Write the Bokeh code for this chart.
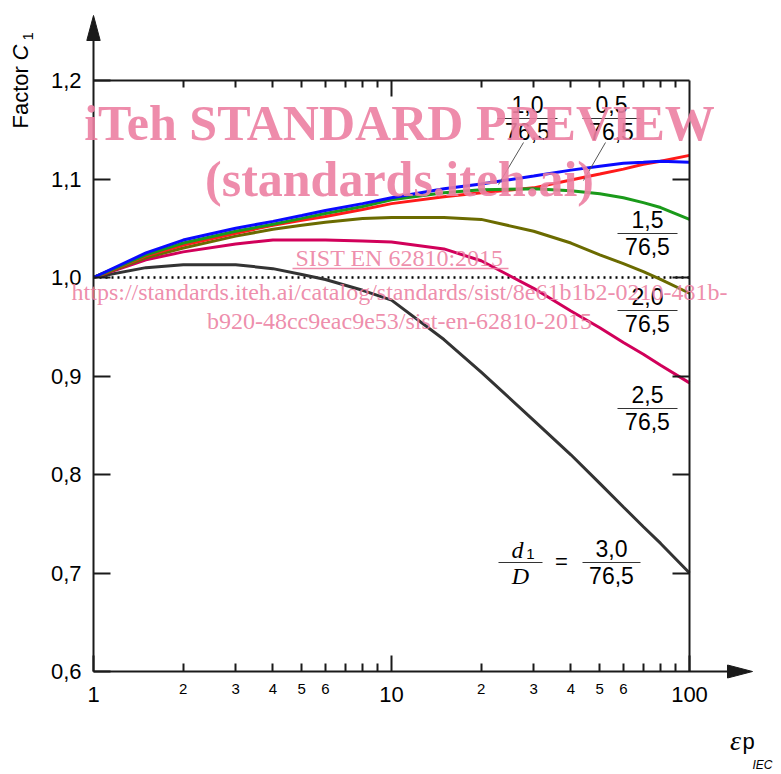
import numpy as np
from bokeh.plotting import figure
from bokeh.models import (Range1d, LogAxis, LinearAxis, FixedTicker, CustomJSTickFormatter, Label)
from bokeh.core.properties import value
from bokeh.embed import file_html
from bokeh.resources import INLINE

# ---------------- data ----------------
eps_p = [1, 1.5, 2, 3, 4, 5, 6, 8, 10, 15, 20, 30, 40, 50, 60, 70, 80, 100]
c1_d05 = [1.000, 1.022, 1.033, 1.045, 1.053, 1.058, 1.062, 1.069, 1.075, 1.082, 1.086, 1.091, 1.099, 1.105, 1.110, 1.115, 1.118, 1.124]
c1_d10 = [1.000, 1.025, 1.038, 1.050, 1.057, 1.063, 1.068, 1.075, 1.081, 1.090, 1.095, 1.103, 1.109, 1.113, 1.116, 1.117, 1.118, 1.117]
c1_d15 = [1.000, 1.023, 1.035, 1.047, 1.054, 1.060, 1.065, 1.072, 1.079, 1.086, 1.089, 1.090, 1.088, 1.085, 1.081, 1.076, 1.071, 1.059]
c1_d20 = [1.000, 1.020, 1.030, 1.042, 1.049, 1.053, 1.056, 1.060, 1.061, 1.061, 1.059, 1.047, 1.035, 1.023, 1.014, 1.006, 0.998, 0.984]
c1_d25 = [1.000, 1.018, 1.026, 1.034, 1.038, 1.038, 1.038, 1.037, 1.036, 1.029, 1.017, 0.989, 0.966, 0.949, 0.934, 0.922, 0.911, 0.893]
c1_d30 = [1.000, 1.010, 1.013, 1.013, 1.009, 1.003, 0.998, 0.987, 0.977, 0.937, 0.904, 0.855, 0.820, 0.791, 0.767, 0.747, 0.730, 0.700]
ref_x = [1, 100]
ref_y = [1.0, 1.0]

ratio_num = ["0,5", "1,0", "1,5", "2,0", "2,5", "3,0"]
ratio_den = "76,5"

y_ticks = [0.6, 0.7, 0.8, 0.9, 1.0, 1.1, 1.2]
right_ticks = [0.7, 0.8, 0.9, 1.0, 1.1]
x_major = [1, 10, 100]
x_minor = [2, 3, 4, 5, 6, 7, 8, 9, 20, 30, 40, 50, 60, 70, 80, 90]
x_minor_lab = [2, 3, 4, 5, 6, 20, 30, 40, 50, 60]
x_minor_txt = ["2", "3", "4", "5", "6", "2", "3", "4", "5", "6"]

# ---------------- layout (canvas px -> data) ----------------
W, H = 780, 773
FL, FR, FT, FB = 93, 689, 80, 671      # where the data box sits on the canvas
X0, X1, Y0, Y1 = 1, 100, 0.6, 1.2


def dx(px):
    return 10 ** (np.log10(X0) + (px - FL) / (FR - FL) * (np.log10(X1) - np.log10(X0)))


def dy(py):
    return Y0 + (FB - py) / (FB - FT) * (Y1 - Y0)


SANS_N = "Liberation Sans"
SERIF_N = "Liberation Serif"
SANS = value(SANS_N)
SERIF = value(SERIF_N)
INK = "#1a1a1a"

p = figure(x_axis_type="log", x_range=Range1d(dx(0), dx(W)), y_range=Range1d(dy(H), dy(0)),
           width=W, height=H, min_border=0,
           output_backend="svg", toolbar_location=None,
           background_fill_color=None, border_fill_color="white")
p.grid.visible = False
p.outline_line_color = None


def style_axis(ax, tick_in, minor_in=0):
    ax.major_tick_in = tick_in
    ax.major_tick_out = 0
    ax.minor_tick_in = minor_in
    ax.minor_tick_out = 0
    ax.axis_line_width = 2
    ax.axis_line_color = INK
    ax.major_tick_line_width = 2
    ax.minor_tick_line_width = 2
    ax.major_tick_line_color = INK
    ax.minor_tick_line_color = INK


# bottom axis, at y = 0.6, running on to the arrow
xa = p.below[0]
xa.fixed_location = Y0
xa.bounds = (X0, dx(728))
xa.ticker = FixedTicker(ticks=x_major, minor_ticks=x_minor)
xa.formatter = CustomJSTickFormatter(code="return tick.toString()")
style_axis(xa, 16, 8)
xa.major_label_text_font = SANS_N
xa.major_label_text_font_size = "22px"
xa.major_label_text_color = "black"
xa.major_label_standoff = 15

# left axis, at x = 1, running on to the arrow
ya = p.left[0]
ya.fixed_location = X0
ya.bounds = (Y0, dy(39))
ya.ticker = FixedTicker(ticks=y_ticks, minor_ticks=[])
ya.formatter = CustomJSTickFormatter(code="return tick.toFixed(1).replace('.', ',')")
style_axis(ya, 17)
ya.major_label_text_font = SANS_N
ya.major_label_text_font_size = "22px"
ya.major_label_text_color = "black"
ya.major_label_standoff = 12

# top edge (inward ticks only)
top = LogAxis(ticker=FixedTicker(ticks=[10], minor_ticks=x_minor),
              formatter=CustomJSTickFormatter(code="return ''"),
              fixed_location=Y1, bounds=(X0, X1))
style_axis(top, 16, 7)
p.add_layout(top, "above")

# right edge (inward ticks only)
right = LinearAxis(ticker=FixedTicker(ticks=right_ticks, minor_ticks=[]),
                   formatter=CustomJSTickFormatter(code="return ''"),
                   fixed_location=X1, bounds=(Y0, Y1))
style_axis(right, 17)
p.add_layout(right, "right")

# arrow heads
p.patches([[dx(FL - 6.7), dx(FL), dx(FL + 6.7)], [dx(727), dx(752), dx(727)]],
          [[dy(40), dy(15), dy(40)], [dy(FB - 6.5), dy(FB), dy(FB + 6.5)]],
          fill_color=INK, line_color=INK, line_width=1)

# minor tick labels
p.text(x_minor_lab, [dy(688)] * len(x_minor_lab), text=x_minor_txt,
       text_align="center", text_baseline="middle",
       text_font=SANS, text_font_size="15px", text_color="black")


def lab(x, y, text, font=SANS_N, size="22px", style="normal", angle=0.0,
        align="center", color="black", alpha=1.0):
    p.add_layout(Label(x=x, y=y, text=text, angle=angle, text_align=align, text_baseline="middle",
                       text_font=font, text_font_style=style, text_font_size=size,
                       text_color=color, text_alpha=alpha))


# axis titles
lab(dx(20), dy(128), "Factor ", angle=np.pi / 2, align="left")
lab(dx(20), dy(60), "C", style="italic", angle=np.pi / 2, align="left")
lab(dx(27), dy(40), "1", size="15px", angle=np.pi / 2, align="left")
lab(dx(735), dy(740), "\u03b5", font=SERIF_N, style="italic", size="28px")
lab(dx(748), dy(741), "p", size="22px")
lab(dx(762), dy(764), "IEC", style="italic", size="12px")

# reference line and curves
p.line(ref_x, ref_y, line_color="black", line_width=2.5, line_dash="2 4")
curves = [(c1_d30, "#333333"), (c1_d25, "#d1005a"), (c1_d20, "#6b6b00"),
          (c1_d05, "#ff1a1a"), (c1_d15, "#1a9a1a"), (c1_d10, "#0a0aff")]
for ys, col in curves:
    p.line(eps_p, ys, line_color=col, line_width=3)

# curve labels (fractions)
label_pos = {  # numerator -> (center x px, bar y px, bar half width px)
    "0,5": (611, 118, 29), "1,0": (527, 118, 30), "1,5": (647, 233, 30),
    "2,0": (647, 310, 30), "2,5": (647, 408, 30), "3,0": (611, 562, 29),
}
nx, ny, nt, bx0, bx1, by = [], [], [], [], [], []
for num in ratio_num:
    cx, yb, hw = label_pos[num]
    nx += [dx(cx), dx(cx)]
    ny += [dy(yb - 14), dy(yb + 13)]
    nt += [num, ratio_den]
    bx0.append(dx(cx - hw)); bx1.append(dx(cx + hw)); by.append(dy(yb))
p.text(nx, ny, text=nt, text_align="center", text_baseline="middle",
       text_font=SANS, text_font_size="23px", text_color="black")
p.segment(bx0, by, bx1, by, line_color="#333333", line_width=1.2)
# d1/D =
p.segment([dx(498)], [dy(562)], [dx(542)], [dy(562)], line_color="#333333", line_width=1.2)
p.text([dx(517)], [dy(549)], text=["d"], text_align="center", text_baseline="middle",
       text_font=SERIF, text_font_style="italic", text_font_size="24px", text_color="black")
p.text([dx(530)], [dy(553)], text=["1"], text_align="center", text_baseline="middle",
       text_font=SANS, text_font_size="15px", text_color="black")
p.text([dx(520)], [dy(575)], text=["D"], text_align="center", text_baseline="middle",
       text_font=SERIF, text_font_style="italic", text_font_size="24px", text_color="black")
p.text([dx(561)], [dy(561)], text=["="], text_align="center", text_baseline="middle",
       text_font=SANS, text_font_size="22px", text_color="black")
# leader lines
p.segment([dx(523), dx(605)], [dy(142), dy(142)], [dx(498), dx(583)], [dy(184), dy(180)],
          line_color="#555555", line_width=1)

# watermark
WM = "#ec7fa2"
for txt, cy, size, style in [("iTeh STANDARD PREVIEW", 122, "50px", "bold"),
                             ("(standards.iteh.ai)", 178, "50px", "bold"),
                             ("SIST EN 62810:2015", 257, "24px", "normal"),
                             ("https://standards.iteh.ai/catalog/standards/sist/8e61b1b2-0210-481b-", 291, "24px", "normal"),
                             ("b920-48cc9eac9e53/sist-en-62810-2015", 320, "24px", "normal")]:
    lab(dx(399), dy(cy), txt, font=SERIF_N, style=style, size=size, color=WM, alpha=0.9)
p.segment([dx(292)], [dy(268)], [dx(508)], [dy(268)], line_color=WM, line_width=1.5, line_alpha=0.9)

open("out.html", "w").write(file_html(p, INLINE))
